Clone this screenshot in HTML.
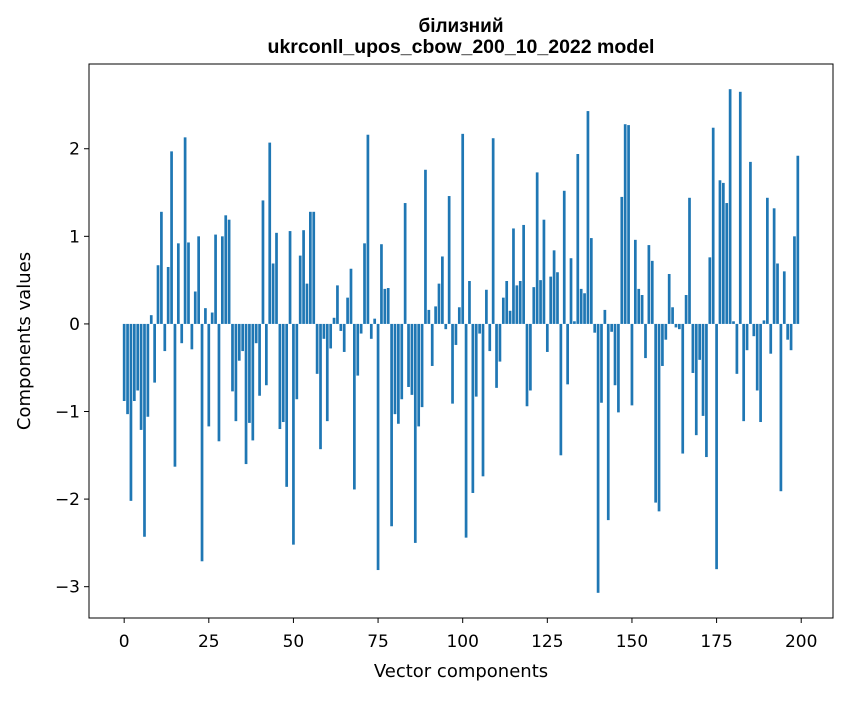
<!DOCTYPE html>
<html><head><meta charset="utf-8"><style>
body{margin:0;background:#fff;}
svg text{font-family:"DejaVu Sans","Liberation Sans",sans-serif;fill:#000;}
svg text.ttl{font-family:"Liberation Sans","DejaVu Sans",sans-serif;}
</style></head><body>
<svg id="chart" width="847" height="696" xmlns="http://www.w3.org/2000/svg">
<rect width="847" height="696" fill="#fff"/>
<text class="ttl" x="461" y="32" text-anchor="middle" font-size="19" font-weight="bold">білизний</text>
<text class="ttl" x="461" y="53" text-anchor="middle" font-size="19.5" font-weight="bold">ukrconll_upos_cbow_200_10_2022 model</text>
<g id="bars"></g>
<g id="xticks"></g>
<g id="yticks"></g>
<rect x="89" y="64" width="744" height="554" fill="none" stroke="#000" stroke-width="1"/>
<text x="461" y="677" text-anchor="middle" font-size="18">Vector components</text>
<text x="0" y="0" transform="translate(30,341) rotate(-90)" text-anchor="middle" font-size="18">Components values</text>
</svg>
<script>
const values = [
-0.88,-1.03,-2.02,-0.88,-0.76,-1.21,-2.43,-1.06,0.10,-0.67,
0.67,1.28,-0.31,0.65,1.97,-1.63,0.92,-0.22,2.13,0.93,
-0.29,0.37,1.00,-2.71,0.18,-1.17,0.13,1.02,-1.34,1.00,
1.24,1.19,-0.77,-1.11,-0.42,-0.31,-1.60,-1.13,-1.33,-0.22,
-0.82,1.41,-0.70,2.07,0.69,1.04,-1.20,-1.12,-1.86,1.06,
-2.52,-0.86,0.78,1.07,0.46,1.28,1.28,-0.57,-1.43,-0.17,
-1.11,-0.28,0.07,0.44,-0.08,-0.32,0.30,0.63,-1.89,-0.59,
-0.11,0.92,2.16,-0.17,0.06,-2.81,0.91,0.40,0.41,-2.31,
-1.03,-1.14,-0.86,1.38,-0.72,-0.81,-2.50,-1.17,-0.95,1.76,
0.16,-0.48,0.20,0.46,0.77,-0.06,1.46,-0.91,-0.24,0.19,
2.17,-2.44,0.49,-1.93,-0.83,-0.11,-1.74,0.39,-0.31,2.12,
-0.73,-0.43,0.30,0.49,0.15,1.09,0.44,0.49,1.13,-0.94,
-0.76,0.42,1.73,0.50,1.19,-0.32,0.54,0.84,0.59,-1.50,
1.52,-0.69,0.75,0.03,1.94,0.40,0.35,2.43,0.98,-0.10,
-3.07,-0.90,0.16,-2.24,-0.09,-0.70,-1.01,1.45,2.28,2.27,
-0.93,0.96,0.40,0.33,-0.39,0.90,0.72,-2.04,-2.14,-0.48,
-0.18,0.57,0.19,-0.04,-0.06,-1.48,0.33,1.44,-0.56,-1.27,
-0.41,-1.05,-1.52,0.76,2.24,-2.80,1.64,1.61,1.38,2.68,
0.03,-0.57,2.65,-1.11,-0.30,1.85,-0.14,-0.76,-1.12,0.04,
1.44,-0.34,1.32,0.69,-1.91,0.60,-0.18,-0.30,1.00,1.92
];
const xTickLabels = [0,25,50,75,100,125,150,175,200];
const yTickLabels = [-3,-2,-1,0,1,2];

const L=89,R=833,T=64,B=618,NS="http://www.w3.org/2000/svg";
const n=values.length;
const xlo=-0.4, xhi=n-1+0.4, xm=(xhi-xlo)*0.05;
const x0=xlo-xm, x1=xhi+xm;
const dmin=Math.min(0,...values), dmax=Math.max(0,...values), ym=(dmax-dmin)*0.05;
const y0=dmin-ym, y1=dmax+ym;
function sx(v){return L+(v-x0)/(x1-x0)*(R-L);}
function sy(v){return B-(v-y0)/(y1-y0)*(B-T);}
const bars=document.getElementById('bars');
values.forEach((v,i)=>{
  const r=document.createElementNS(NS,'rect');
  
  
  const a=sx(i-0.4),b=sx(i+0.4);
  r.setAttribute('x',a);r.setAttribute('width',b-a);
  r.setAttribute('y',Math.min(sy(v),sy(0)));
  r.setAttribute('height',Math.abs(sy(v)-sy(0)));
  r.setAttribute('fill','#1f77b4');
  bars.appendChild(r);
});
const xg=document.getElementById('xticks');
xTickLabels.forEach(t=>{
  const x=sx(t);
  const l=document.createElementNS(NS,'line');
  
  
  l.setAttribute('x1',x);l.setAttribute('x2',x);l.setAttribute('y1',B);l.setAttribute('y2',B+5);
  l.setAttribute('stroke','#000');
  xg.appendChild(l);
  const tx=document.createElementNS(NS,'text');
  
  
  tx.setAttribute('x',x);tx.setAttribute('y',B+29);tx.setAttribute('text-anchor','middle');tx.setAttribute('font-size','17');
  tx.textContent=t;
  xg.appendChild(tx);
});
const yg=document.getElementById('yticks');
yTickLabels.forEach(t=>{
  const y=sy(t);
  const l=document.createElementNS(NS,'line');
  
  
  l.setAttribute('x1',L-5);l.setAttribute('x2',L);l.setAttribute('y1',y);l.setAttribute('y2',y);
  l.setAttribute('stroke','#000');
  yg.appendChild(l);
  const tx=document.createElementNS(NS,'text');
  
  
  tx.setAttribute('x',L-9);tx.setAttribute('y',y+6);tx.setAttribute('text-anchor','end');tx.setAttribute('font-size','17');
  tx.textContent=t<0?'\u2212'+Math.abs(t):String(t);
  yg.appendChild(tx);
});
</script>
</body></html>
